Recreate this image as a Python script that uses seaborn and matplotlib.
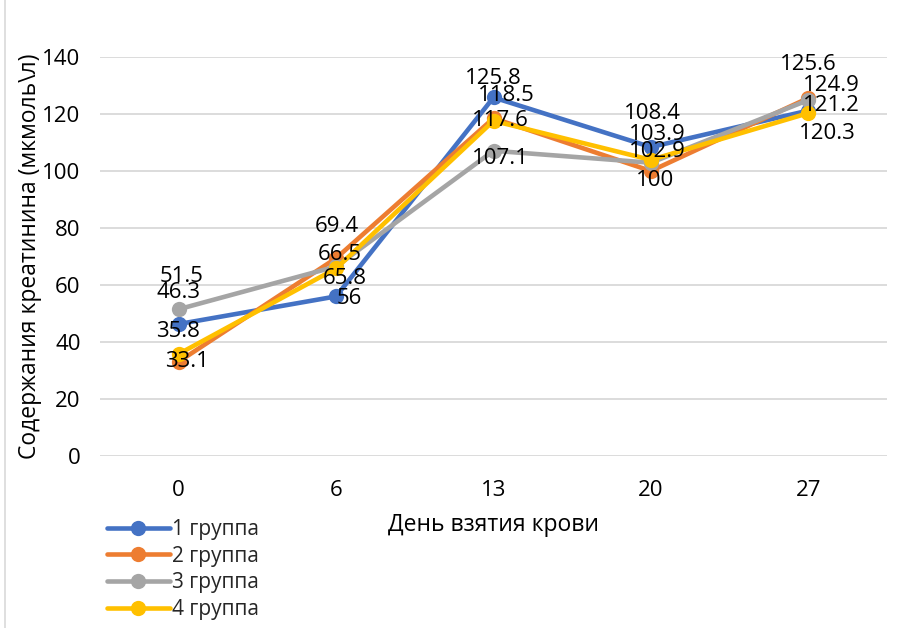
import matplotlib
matplotlib.use("Agg")
import matplotlib.pyplot as plt
from matplotlib.lines import Line2D
import seaborn as sns
import pandas as pd

days = ["0", "6", "13", "20", "27"]
groups = ["1 группа", "2 группа", "3 группа", "4 группа"]
group1 = [46.3, 56, 125.8, 108.4, 121.2]
group2 = [33.1, 69.4, 118.5, 100, 125.6]
group3 = [51.5, 66.5, 107.1, 102.9, 124.9]
group4 = [35.8, 65.8, 117.6, 103.9, 120.3]
colors = ["#4472C4", "#ED7D31", "#A5A5A5", "#FFC000"]

# label offsets (pixels, dx right / dy up) so the value labels don't pile up
label_offsets = [
    [(0, 32), (13, -2), (0, 19), (1, 34), (23, 5)],
    [(8, 0), (1, 32), (13, 23), (4, -10), (0, 34)],
    [(3, 33), (4, 12), (7, -8), (6, 11), (23, 15)],
    [(-1, 22), (9, -10), (7, 0), (6, 25), (19, -20)],
]

series = [group1, group2, group3, group4]
df = pd.DataFrame(
    [(g, d, v) for g, vals in zip(groups, series) for d, v in zip(days, vals)],
    columns=["group", "day", "value"],
)

sns.set_theme(style="white")
plt.rcParams["font.family"] = ["Open Sans", "DejaVu Sans"]

fig = plt.figure(figsize=(9.07, 6.28), dpi=100)
ax = fig.add_axes([100 / 907, 1 - 456 / 628, 787 / 907, 399 / 628])

sns.lineplot(
    data=df, x="day", y="value", hue="group", palette=colors,
    marker="o", markersize=11, markeredgewidth=0, linewidth=3.3,
    sort=False, ax=ax, legend=False,
)

for vals, offs in zip(series, label_offsets):
    for i, (v, (dx, dy)) in enumerate(zip(vals, offs)):
        ax.annotate(f"{v:g}", (i, v), xytext=(dx * 0.72, dy * 0.72),
                    textcoords="offset points", ha="center", va="center",
                    fontsize=16, color="#000000")

ax.set_ylim(0, 140)
ax.set_xlim(-0.5, 4.5)
ax.set_yticks(range(0, 141, 20))
ax.grid(axis="y", color="#D9D9D9", linewidth=1.3)
ax.set_axisbelow(True)
for s in ax.spines.values():
    s.set_visible(False)
ax.tick_params(axis="both", length=0, labelsize=16, colors="#000000")
ax.tick_params(axis="x", pad=17)
ax.tick_params(axis="y", pad=14)

ax.set_xlabel("День взятия крови", fontsize=16.5, color="#000000", labelpad=9)
ax.set_ylabel("Содержания креатинина (мкмоль\\л)", fontsize=16.5, color="#000000", labelpad=0)

handles = [Line2D([], [], color=c, marker="o", markersize=11, linewidth=3.3,
                  markeredgewidth=0) for c in colors]
fig.legend(handles, groups, loc="upper left", bbox_to_anchor=(107 / 907, 1 - 519 / 628),
           frameon=False, fontsize=15, handlelength=3.0, handletextpad=0.1,
           labelspacing=0.27, borderaxespad=0, borderpad=0)

fig.add_artist(Line2D([5 / 907, 5 / 907], [0, 1], transform=fig.transFigure,
                      color="#D9D9D9", linewidth=1.2))

fig.savefig("out.png", dpi=100)
